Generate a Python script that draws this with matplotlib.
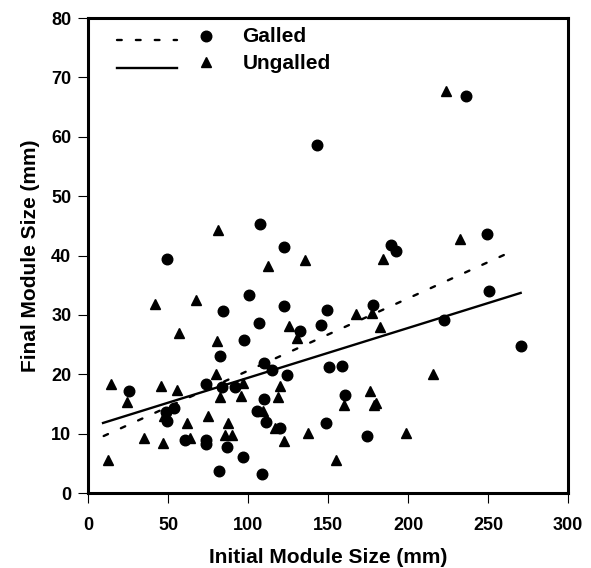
import matplotlib
matplotlib.use("Agg")
import matplotlib.pyplot as plt

plt.rcParams['font.family'] = ['Liberation Sans', 'DejaVu Sans']
plt.rcParams['font.weight'] = 'bold'

# Galled modules (circles)
galled_x = [49.4, 143.1, 236.0, 107.3, 122.5, 189.2, 192.2, 249.4, 100.6, 84.5,
            122.4, 149.4, 178.1, 106.7, 145.6, 132.5, 97.5, 222.4, 250.4, 270.5,
            82.6, 109.7, 114.7, 124.5, 150.4, 158.6, 25.4, 73.7, 83.5, 91.8,
            109.7, 160.4, 53.9, 49.0, 49.6, 105.4, 111.0, 119.8, 148.6, 174.5,
            86.8, 96.9, 81.9, 108.7, 74.0, 74.0, 60.4]
galled_y = [39.4, 58.6, 66.8, 45.3, 41.5, 41.8, 40.8, 43.7, 33.3, 30.6,
            31.5, 30.8, 31.6, 28.7, 28.3, 27.3, 25.8, 29.2, 34.1, 24.8,
            23.1, 21.9, 20.7, 19.9, 21.2, 21.4, 17.1, 18.3, 17.9, 17.8,
            15.9, 16.5, 14.3, 13.7, 12.1, 13.8, 11.9, 10.9, 11.8, 9.6,
            7.7, 6.1, 3.7, 3.2, 9.0, 8.2, 9.0]

# Ungalled modules (triangles)
ungalled_x = [224.0, 81.5, 112.6, 135.4, 184.3, 232.3, 41.8, 67.6, 167.3, 177.5,
              182.7, 125.6, 130.7, 56.6, 80.8, 215.6, 79.7, 14.5, 24.6, 45.9,
              55.9, 96.9, 82.4, 95.6, 119.8, 118.9, 159.7, 176.5, 179.8, 178.5,
              74.7, 109.6, 116.7, 122.8, 137.6, 198.6, 154.7, 87.8, 85.8, 90.2,
              61.8, 64.0, 47.0, 35.0, 12.7, 47.2]
ungalled_y = [67.7, 44.3, 38.2, 39.3, 39.4, 42.7, 31.9, 32.5, 30.2, 30.3,
              28.0, 28.1, 26.1, 26.9, 25.6, 20.0, 20.0, 18.3, 15.3, 18.0,
              17.4, 18.5, 16.2, 16.3, 18.1, 16.2, 14.8, 17.2, 15.2, 14.9,
              13.0, 13.8, 10.9, 8.8, 10.1, 10.1, 5.5, 11.8, 9.8, 9.8,
              11.8, 9.2, 8.5, 9.3, 5.6, 12.9]

# Regression lines (end points)
fit_galled_x = [9.8, 262.5]
fit_galled_y = [9.6, 40.4]
fit_ungalled_x = [9.4, 270.4]
fit_ungalled_y = [11.8, 33.7]

fig = plt.figure(figsize=(5.91, 5.68), dpi=100)
ax = fig.add_axes([0.1489, 0.1320, 0.8122, 0.8363])

ax.plot(fit_galled_x, fit_galled_y, color="black", lw=1.7, linestyle=(0, (2.0, 6.0)),
        dash_capstyle="round")
ax.plot(fit_ungalled_x, fit_ungalled_y, color="black", lw=1.7, linestyle="-")
ax.plot(galled_x, galled_y, linestyle="none", marker="o", markersize=7.6,
        color="black")
ax.plot(ungalled_x, ungalled_y, linestyle="none", marker="^", markersize=7.8,
        color="black")

# Legend drawn by hand: line sample, marker, label
ax.plot([0.06, 0.185], [0.954, 0.954], transform=ax.transAxes, color="black",
        lw=1.7, linestyle=(0, (2.0, 6.0)), dash_capstyle="round")
ax.plot([0.06, 0.185], [0.894, 0.894], transform=ax.transAxes, color="black", lw=1.7)
ax.plot([0.245], [0.962], transform=ax.transAxes, marker="o", markersize=7.6,
        color="black")
ax.plot([0.245], [0.908], transform=ax.transAxes, marker="^", markersize=7.2,
        color="black")
ax.text(0.322, 0.962, "Galled", transform=ax.transAxes, fontsize=15,
        fontweight="bold", va="center", ha="left")
ax.text(0.322, 0.905, "Ungalled", transform=ax.transAxes, fontsize=15,
        fontweight="bold", va="center", ha="left")

ax.set_xlim(0, 300)
ax.set_ylim(0, 80)
ax.set_xticks([0, 50, 100, 150, 200, 250, 300])
ax.set_yticks([0, 10, 20, 30, 40, 50, 60, 70, 80])

for sp in ax.spines.values():
    sp.set_linewidth(2.2)

ax.tick_params(axis="both", direction="out", length=7, width=0.8, labelsize=13)
ax.tick_params(axis="x", pad=10)
ax.tick_params(axis="y", pad=5)
for lab in ax.get_xticklabels() + ax.get_yticklabels():
    lab.set_fontweight("bold")

ax.set_xlabel("Initial Module Size (mm)", fontsize=15, fontweight="bold", labelpad=10)
ax.set_ylabel("Final Module Size (mm)", fontsize=15, fontweight="bold", labelpad=8)

fig.savefig("out.png", dpi=100)
